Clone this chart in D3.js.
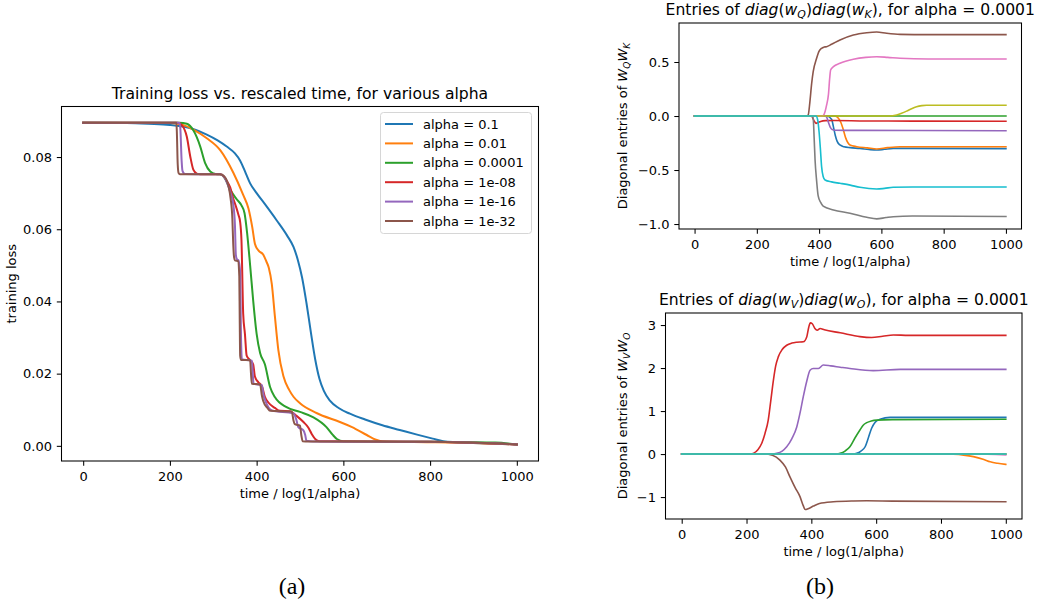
<!DOCTYPE html>
<html>
<head>
<meta charset="utf-8">
<script src="https://cdn.jsdelivr.net/npm/d3@7"></script>
<style>
  body { margin: 0; background: #fff; }
  svg { display: block; }
  text { font-family: "DejaVu Sans", sans-serif; fill: #000; }
</style>
</head>
<body>
<svg id="fig" width="1045" height="609"></svg>
<script>
// ---------- (a) training loss vs. rescaled time ----------
const alphaLabels = ["alpha = 0.1", "alpha = 0.01", "alpha = 0.0001", "alpha = 1e-08", "alpha = 1e-16", "alpha = 1e-32"];

const lossAlpha1e1 = [[0,0.0895],[100,0.0894],[150,0.0892],[200,0.0889],[250,0.0879],[285,0.0862],[310,0.0846],[331,0.0829],[350,0.0810],[362,0.0790],[375,0.0755],[385,0.0727],[400,0.0700],[420,0.0668],[446,0.0625],[470,0.0583],[485,0.0551],[495,0.0515],[505,0.0465],[515,0.0395],[525,0.0315],[535,0.0240],[545,0.0185],[555,0.0152],[569,0.0125],[590,0.0104],[615,0.0089],[650,0.0073],[690,0.0057],[730,0.0044],[770,0.0031],[806,0.0020],[830,0.0013],[860,0.0010],[900,0.0008],[950,0.0006],[1000,0.0004]];
const lossAlpha1e2 = [[0,0.0895],[200,0.0894],[230,0.0889],[254,0.0876],[285,0.0852],[316,0.0819],[346,0.0757],[369,0.0695],[381,0.0658],[390,0.0605],[396,0.0560],[405,0.0540],[415,0.0530],[422,0.0512],[428,0.0493],[435,0.0448],[442,0.0360],[450,0.0266],[462,0.0192],[475,0.0155],[485,0.0136],[500,0.0118],[538,0.0091],[592,0.0066],[620,0.0052],[654,0.0030],[675,0.0017],[691,0.0012],[800,0.0010],[900,0.0008],[1000,0.0004]];
const lossAlpha1e4 = [[0,0.0895],[222,0.0895],[239,0.0892],[254,0.0874],[270,0.0829],[281,0.0784],[293,0.0760],[305,0.0753],[316,0.0752],[327,0.0741],[339,0.0710],[354,0.0683],[365,0.0666],[372,0.0645],[378,0.0590],[385,0.0500],[392,0.0403],[400,0.0310],[408,0.0257],[419,0.0226],[431,0.0163],[442,0.0135],[469,0.0107],[500,0.0094],[531,0.0079],[561,0.0052],[575,0.0031],[585,0.0019],[600,0.0013],[800,0.0011],[950,0.0009],[1000,0.0004]];
const lossAlpha1e8 = [[0,0.0895],[218,0.0895],[227,0.0889],[239,0.0856],[247,0.0801],[254,0.0765],[262,0.0754],[270,0.0752],[316,0.0752],[325,0.0745],[331,0.0734],[339,0.0716],[346,0.0685],[352,0.0664],[358,0.0640],[362,0.0620],[365,0.0570],[369,0.0366],[373,0.0310],[377,0.0250],[385,0.0237],[392,0.0226],[396,0.0192],[404,0.0176],[412,0.0166],[419,0.0136],[427,0.0120],[442,0.0105],[454,0.0097],[477,0.0096],[492,0.0083],[508,0.0066],[519,0.0051],[527,0.0033],[538,0.0016],[546,0.0013],[800,0.0011],[1000,0.0004]];
const lossAlpha1e16 = [[0,0.0895],[222,0.0895],[224,0.0880],[227,0.0790],[229,0.0762],[235,0.0753],[316,0.0752],[325,0.0745],[333,0.0725],[340,0.0700],[346,0.0670],[350,0.0610],[352,0.0530],[354,0.0518],[358,0.0514],[362,0.0480],[364,0.0300],[366,0.0240],[389,0.0236],[391,0.0200],[393,0.0172],[412,0.0168],[416,0.0140],[420,0.0125],[435,0.0098],[485,0.0090],[492,0.0070],[496,0.0052],[508,0.0043],[512,0.0030],[515,0.0014],[530,0.0012],[800,0.0011],[1000,0.0004]];
const lossAlpha1e32 = [[0,0.0895],[215,0.0895],[216,0.0870],[218,0.0780],[220,0.0756],[224,0.0752],[316,0.0752],[325,0.0747],[335,0.0720],[340,0.0685],[344,0.0630],[346,0.0560],[348,0.0522],[350,0.0514],[357,0.0512],[360,0.0470],[361,0.0350],[362,0.0250],[364,0.0238],[385,0.0237],[387,0.0200],[389,0.0172],[408,0.0170],[412,0.0140],[415,0.0125],[425,0.0105],[431,0.0097],[481,0.0095],[485,0.0070],[488,0.0060],[500,0.0056],[503,0.0030],[506,0.0013],[520,0.0012],[800,0.0011],[1000,0.0004]];
const lossSeries = [lossAlpha1e1, lossAlpha1e2, lossAlpha1e4, lossAlpha1e8, lossAlpha1e16, lossAlpha1e32];

const timeTicks = [0, 200, 400, 600, 800, 1000];
const lossTicks = [0.00, 0.02, 0.04, 0.06, 0.08];

// ---------- (b, top) diagonal entries of W_Q W_K ----------
const qkBlue   = [[0,0],[425,0],[440,-0.03],[446,-0.10],[452,-0.18],[458,-0.235],[467,-0.268],[480,-0.285],[500,-0.293],[531,-0.300],[560,-0.310],[585,-0.315],[610,-0.308],[638,-0.300],[700,-0.300],[1000,-0.302]];
const qkOrange = [[0,0],[450,0],[462,-0.02],[470,-0.06],[478,-0.13],[485,-0.20],[492,-0.245],[499,-0.268],[521,-0.284],[555,-0.295],[585,-0.305],[620,-0.293],[660,-0.285],[1000,-0.285]];
const qkGreen  = [[0,0],[1000,0]];
const qkRed    = [[0,0],[375,0],[383,-0.04],[390,-0.068],[397,-0.06],[405,-0.05],[420,-0.043],[450,-0.042],[550,-0.046],[700,-0.047],[1000,-0.048]];
const qkPurple = [[0,0],[418,0],[424,-0.01],[430,-0.06],[436,-0.105],[442,-0.125],[452,-0.132],[520,-0.133],[1000,-0.136]];
const qkBrown  = [[0,0],[360,0],[365,0.01],[370,0.12],[376,0.30],[381,0.41],[392,0.534],[400,0.60],[408,0.627],[416,0.638],[424,0.642],[440,0.664],[467,0.704],[510,0.750],[553,0.771],[585,0.778],[617,0.766],[660,0.756],[750,0.753],[1000,0.753]];
const qkPink   = [[0,0],[410,0],[415,0.01],[424,0.10],[430,0.20],[434,0.35],[437,0.426],[446,0.457],[467,0.488],[510,0.525],[550,0.543],[585,0.549],[620,0.543],[660,0.534],[750,0.528],[1000,0.528]];
const qkGray   = [[0,0],[378,0],[381,-0.02],[384,-0.20],[387,-0.407],[392,-0.60],[397,-0.74],[405,-0.80],[413,-0.835],[446,-0.87],[499,-0.90],[553,-0.938],[585,-0.952],[615,-0.940],[638,-0.932],[700,-0.926],[1000,-0.930]];
const qkOlive  = [[0,0],[625,0],[649,0.01],[665,0.025],[681,0.045],[697,0.068],[713,0.086],[730,0.096],[745,0.100],[1000,0.100]];
const qkCyan   = [[0,0],[390,0],[395,-0.03],[400,-0.15],[404,-0.30],[408,-0.469],[413,-0.56],[419,-0.593],[440,-0.61],[467,-0.623],[500,-0.64],[531,-0.66],[585,-0.676],[610,-0.670],[638,-0.660],[700,-0.657],[1000,-0.657]];
const qkSeries = [qkBlue, qkOrange, qkGreen, qkRed, qkPurple, qkBrown, qkPink, qkGray, qkOlive, qkCyan];
const qkTicks = [-1.0, -0.5, 0.0, 0.5];

// ---------- (b, bottom) diagonal entries of W_V W_O ----------
const voBlue   = [[0,0],[530,0],[540,0.016],[553,0.07],[566,0.17],[576,0.38],[586,0.60],[597,0.74],[612,0.81],[643,0.853],[1000,0.853]];
const voOrange = [[0,0],[820,0],[838,-0.005],[870,-0.025],[900,-0.06],[930,-0.12],[952,-0.18],[975,-0.215],[1000,-0.24]];
const voGreen  = [[0,0],[478,0],[489,0.016],[504,0.07],[519,0.17],[535,0.38],[550,0.56],[560,0.67],[571,0.73],[585,0.77],[602,0.79],[650,0.80],[1000,0.81]];
const voRed    = [[0,0],[215,0],[221,0.016],[235,0.10],[247,0.25],[257,0.48],[267,0.79],[275,1.25],[283,1.72],[290,2.05],[298,2.26],[310,2.43],[324,2.53],[340,2.58],[355,2.60],[375,2.61],[386,2.73],[392,2.95],[397,3.05],[403,3.03],[411,2.92],[418,2.88],[427,2.92],[440,2.89],[489,2.82],[550,2.73],[586,2.71],[620,2.74],[653,2.77],[700,2.76],[1000,2.76]];
const voPurple = [[0,0],[280,0],[293,0.016],[310,0.07],[324,0.17],[340,0.36],[355,0.63],[365,0.95],[375,1.33],[386,1.70],[396,1.95],[406,1.99],[422,1.99],[437,2.07],[460,2.05],[489,2.02],[519,1.99],[591,1.94],[674,1.97],[1000,1.97]];
const voBrown  = [[0,0],[255,0],[280,-0.03],[303,-0.14],[320,-0.30],[334,-0.53],[350,-0.78],[365,-0.99],[375,-1.20],[381,-1.29],[390,-1.27],[406,-1.21],[425,-1.15],[468,-1.11],[530,-1.09],[571,-1.086],[650,-1.095],[1000,-1.11]];
const voPink   = [[0,0],[900,0],[1000,-0.02]];
const voGray   = [[0,0],[1000,0]];
const voOlive  = [[0,0],[1000,0]];
const voCyan   = [[0,0],[1000,0]];
const voSeries = [voBlue, voOrange, voGreen, voRed, voPurple, voBrown, voPink, voGray, voOlive, voCyan];
const voTicks = [-1, 0, 1, 2, 3];

// ---------- drawing ----------
const colors = d3.schemeCategory10;
const svg = d3.select("#fig");
const TICK = 13, TITLE = 15.6;

function panel(o) {
  const x = d3.scaleLinear().domain([-50, 1050]).range([o.left, o.right]);
  const y = d3.scaleLinear().domain(o.yDomain).range([o.bottom, o.top]);
  const g = svg.append("g");

  const line = d3.line().x(d => x(d[0])).y(d => y(d[1])).curve(d3.curveMonotoneX);
  g.append("g").selectAll("path").data(o.series).join("path")
    .attr("d", line).attr("fill", "none")
    .attr("stroke", (d, i) => colors[i])
    .attr("stroke-width", o.lw).attr("stroke-linejoin", "round").attr("stroke-linecap", "square");

  const xa = g.append("g").attr("transform", `translate(0,${o.bottom})`)
    .call(d3.axisBottom(x).tickValues(timeTicks).tickFormat(d3.format("d")).tickSize(4.7).tickPadding(5.6));
  const ya = g.append("g").attr("transform", `translate(${o.left},0)`)
    .call(d3.axisLeft(y).tickValues(o.yTicks).tickFormat(d3.format(o.yFmt)).tickSize(4.7).tickPadding(4.8));
  [xa, ya].forEach(a => {
    a.select(".domain").remove();
    a.selectAll(".tick line").attr("stroke", "#000").attr("stroke-width", 1.05);
    a.selectAll(".tick text").attr("font-size", TICK).attr("font-family", "DejaVu Sans").attr("fill", "#000");
  });

  g.append("rect").attr("x", o.left).attr("y", o.top)
    .attr("width", o.right - o.left).attr("height", o.bottom - o.top)
    .attr("fill", "none").attr("stroke", "#000").attr("stroke-width", 1.05);

  const cx = (o.left + o.right) / 2, cy = (o.top + o.bottom) / 2;
  // title
  const t = g.append("text").attr("x", cx).attr("y", o.top - 8)
    .attr("text-anchor", "middle").attr("font-size", TITLE);
  richText(t, o.title, TITLE);
  // x label
  g.append("text").attr("x", cx).attr("y", o.bottom + 37)
    .attr("text-anchor", "middle").attr("font-size", TICK).text("time / log(1/alpha)");
  // y label
  const yl = g.append("text").attr("transform", `translate(${o.ylabX},${cy}) rotate(-90)`)
    .attr("text-anchor", "middle").attr("font-size", TICK);
  richText(yl, o.ylabel, TICK);
  return { x, y, g };
}

// parts: [string, style] where style is "" (upright), "i" (italic) or "s" (italic subscript)
function richText(el, parts, size) {
  let back = 0;
  parts.forEach(([str, st]) => {
    const ts = el.append("tspan").text(str);
    if (st === "s") {
      const sh = size * 0.22;
      ts.attr("font-style", "italic").attr("font-size", size * 0.7).attr("dy", sh);
      back = sh;
    } else {
      ts.attr("font-style", st === "i" ? "italic" : "normal").attr("font-size", size);
      if (back) { ts.attr("dy", -back); back = 0; }
    }
  });
}

// (a)
const pa = panel({
  left: 61.5, right: 538.5, top: 106.5, bottom: 461,
  yDomain: [-0.0042, 0.0940], yTicks: lossTicks, yFmt: ".2f",
  series: lossSeries, lw: 2,
  title: [["Training loss vs. rescaled time, for various alpha", ""]],
  ylabel: [["training loss", ""]], ylabX: 15.5
});

// legend
const lg = pa.g.append("g");
lg.append("rect").attr("x", 380.5).attr("y", 112.5).attr("width", 151).attr("height", 121)
  .attr("rx", 3).attr("fill", "#fff").attr("fill-opacity", 0.8)
  .attr("stroke", "#d6d6d6").attr("stroke-width", 1);
const rows = lg.selectAll("g.row").data(alphaLabels).join("g").attr("class", "row")
  .attr("transform", (d, i) => `translate(0,${124 + i * 19.4})`);
rows.append("line").attr("x1", 385).attr("x2", 413).attr("y1", 0).attr("y2", 0)
  .attr("stroke", (d, i) => colors[i]).attr("stroke-width", 2);
rows.append("text").attr("x", 423).attr("y", 0).attr("dy", "0.36em")
  .attr("font-size", TICK).text(d => d);

// (b) top
panel({
  left: 679, right: 1021.5, top: 23, bottom: 229,
  yDomain: [-1.046, 0.861], yTicks: qkTicks, yFmt: ".1f",
  series: qkSeries, lw: 1.6,
  title: [["Entries of ", ""], ["diag", "i"], ["(", ""], ["w", "i"], ["Q", "s"], [")", ""],
          ["diag", "i"], ["(", ""], ["w", "i"], ["K", "s"], [")", ""], [", for alpha = 0.0001", ""]],
  ylabel: [["Diagonal entries of ", ""], ["W", "i"], ["Q", "s"], ["W", "i"], ["K", "s"]], ylabX: 627
});

// (b) bottom
panel({
  left: 665.5, right: 1022, top: 313, bottom: 519,
  yDomain: [-1.51, 3.28], yTicks: voTicks, yFmt: "d",
  series: voSeries, lw: 1.6,
  title: [["Entries of ", ""], ["diag", "i"], ["(", ""], ["w", "i"], ["V", "s"], [")", ""],
          ["diag", "i"], ["(", ""], ["w", "i"], ["O", "s"], [")", ""], [", for alpha = 0.0001", ""]],
  ylabel: [["Diagonal entries of ", ""], ["W", "i"], ["V", "s"], ["W", "i"], ["O", "s"]], ylabX: 627
});

// sub-figure captions
svg.append("text").attr("x", 292).attr("y", 594).attr("text-anchor", "middle")
  .style("font-family", "'Liberation Serif', serif")
  .attr("font-size", 24).text("(a)");
svg.append("text").attr("x", 820).attr("y", 594).attr("text-anchor", "middle")
  .style("font-family", "'Liberation Serif', serif")
  .attr("font-size", 24).text("(b)");
</script>
</body>
</html>
